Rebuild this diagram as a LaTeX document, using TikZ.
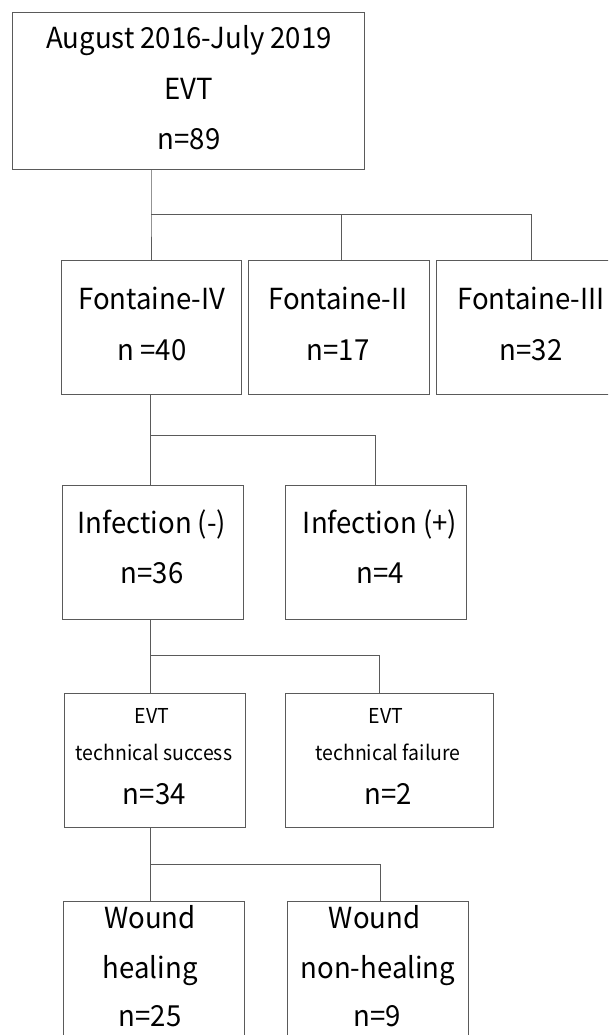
\documentclass[tikz,border=0pt]{standalone}
\usepackage{fontspec}
\setmainfont{Noto Sans CJK JP}[FakeStretch=0.95]
\definecolor{linec}{RGB}{90,90,90}
\newcommand{\bigtxt}{\fontsize{29}{29}\selectfont}
\newcommand{\smalltxt}{\fontsize{20.5}{20.5}\selectfont}
\begin{document}
\begin{tikzpicture}[x=1pt,y=-1pt,
  box/.style={draw=linec, line width=1pt, inner sep=0pt, anchor=north west, fill=none},
  conn/.style={draw=linec, line width=1pt},
  lbl/.style={anchor=base, inner sep=0pt, font=\bigtxt, text=black},
  slbl/.style={anchor=base, inner sep=0pt, font=\smalltxt, text=black}]
\useasboundingbox (0,0) rectangle (608,1035);
\clip (0,0) rectangle (608,1035);
\fill[white] (0,0) rectangle (608,1035);
% boxes
\node[box, minimum width=352pt, minimum height=157pt] (top) at (12,12) {};
\node[box, minimum width=180pt, minimum height=134.5pt] (f4) at (61,259.5) {};
\node[box, minimum width=181pt, minimum height=134.5pt] (f2) at (248,259.5) {};
\node[box, minimum width=190pt, minimum height=134.5pt] (f3) at (436.3,259.5) {};
\node[box, minimum width=180.7pt, minimum height=134.3pt] (im) at (62.3,484.7) {};
\node[box, minimum width=181pt, minimum height=134.3pt] (ip) at (284.7,484.7) {};
\node[box, minimum width=181pt, minimum height=134pt] (es) at (63.7,692.7) {};
\node[box, minimum width=208pt, minimum height=134pt] (ef) at (284.7,692.7) {};
\node[box, minimum width=181.3pt, minimum height=150pt] (wh) at (63,901.3) {};
\node[box, minimum width=181pt, minimum height=150pt] (wn) at (287.3,901.3) {};
% junctions
\coordinate (j1) at (151,214.3);
\coordinate (j2) at (341.5,214.3);
\coordinate (j3) at (531.5,214.3);
\coordinate (j4) at (150.7,435.7);
\coordinate (j5) at (375.3,435.7);
\coordinate (j6) at (150.7,655.7);
\coordinate (j7) at (379.5,655.7);
\coordinate (j8) at (150.7,864.3);
\coordinate (j9) at (380.2,864.3);
% connectors
\draw[conn] (top.south -| j1) -- (j1) -- (f4.north -| j1);
\draw[conn] (j1) -- (j3) -- (f3.north -| j3);
\draw[conn] (j2) -- (f2.north -| j2);
\draw[conn] (f4.south -| j4) -- (j4) -- (im.north -| j4);
\draw[conn] (j4) -- (j5) -- (ip.north -| j5);
\draw[conn] (im.south -| j6) -- (j6) -- (es.north -| j6);
\draw[conn] (j6) -- (j7) -- (ef.north -| j7);
\draw[conn] (es.south -| j8) -- (j8) -- (wh.north -| j8);
\draw[conn] (j8) -- (j9) -- (wn.north -| j9);
% texts
\node[lbl] (t1) at (189,48.3) {August 2016-July 2019};
\node[lbl] (t2) at (189,99.3) {EVT};
\node[lbl] (t3) at (189,149.3) {n=89};
\node[lbl] (t4) at (151.7,309.3) {Fontaine-IV};
\node[lbl] (t5) at (152,360) {n =40};
\node[lbl] (t6) at (338,309.3) {Fontaine-II};
\node[lbl] (t7) at (338,360) {n=17};
\node[lbl] (t8) at (531,309.3) {Fontaine-III};
\node[lbl] (t9) at (531,360) {n=32};
\node[lbl] (t10) at (152,533) {Infection (-)};
\node[lbl] (t11) at (152,583) {n=36};
\node[lbl] (t12) at (380,533) {Infection (+)};
\node[lbl] (t13) at (380.5,583) {n=4};
\node[slbl] (t14) at (152,723.3) {EVT};
\node[slbl] (t15) at (154,760.7) {technical success};
\node[lbl] (t16) at (154.3,804) {n=34};
\node[slbl] (t17) at (386,723.3) {EVT};
\node[slbl] (t18) at (388,760.7) {technical failure};
\node[lbl] (t19) at (388.5,804) {n=2};
\node[lbl] (t20) at (150,928.3) {Wound};
\node[lbl] (t21) at (150.3,978) {healing};
\node[lbl] (t22) at (150,1026.7) {n=25};
\node[lbl] (t23) at (374.6,928.3) {Wound};
\node[lbl] (t24) at (377.9,978) {non-healing};
\node[lbl] (t25) at (377.5,1026.7) {n=9};
\end{tikzpicture}
\end{document}
